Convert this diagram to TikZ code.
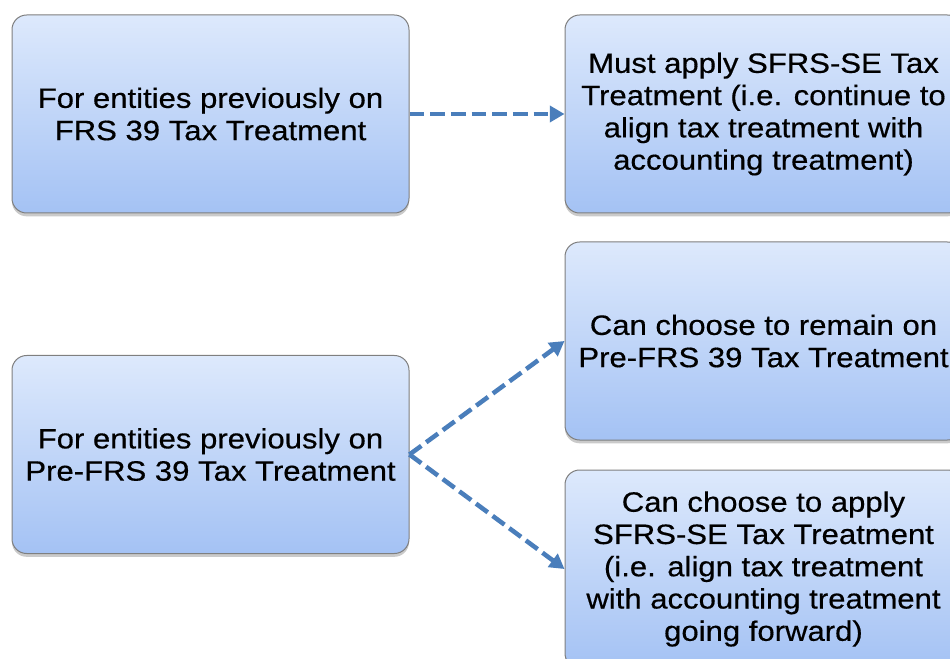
\documentclass[tikz,border=0pt]{standalone}
\usepackage{fontspec}
\setmainfont{Liberation Sans}[FakeStretch=1.11,FakeBold=0.5]
\usetikzlibrary{arrows.meta,shadows}
\definecolor{boxtop}{HTML}{DDE9FC}
\definecolor{boxbot}{HTML}{A4C2F4}
\definecolor{boxline}{HTML}{7F7F7F}
\definecolor{arrowc}{HTML}{4A7EBB}
\begin{document}
\begin{tikzpicture}[x=0.75pt,y=-0.75pt,
 card/.style={draw=boxline, line width=0.75pt, rounded corners=11pt,
   top color=boxtop, bottom color=boxbot,
   minimum width=297.75pt, minimum height=148.5pt, align=center,
   font=\fontsize{21pt}{24.2pt}\selectfont, inner sep=0pt,
   drop shadow={shadow xshift=0pt, shadow yshift=-2.5pt, opacity=0.35, fill=black!60}},
 link/.style={draw=arrowc, line width=3.4pt, dash pattern=on 11pt off 4.5pt,
   -{Triangle[length=11pt,width=12pt]}}]
\useasboundingbox (0,0) rectangle (950,659);
\node[card] (a) at (210.5,114) {For entities previously on\\ FRS 39 Tax Treatment};
\node[card] (b) at (763.5,114) {Must apply SFRS-SE Tax\\Treatment (i.e. continue to\\align tax treatment with\\accounting treatment)};
\node[card] (c) at (210.5,454.5) {For entities previously on\\Pre-FRS 39 Tax Treatment};
\node[card] (d) at (763.5,341) {Can choose to remain on\\Pre-FRS 39 Tax Treatment};
\node[card] (e) at (763.5,569) {Can choose to apply\\SFRS-SE Tax Treatment\\(i.e. align tax treatment\\with accounting treatment\\going forward)};
\draw[link] (a.east) -- (b.west);
\draw[link] (c.east) -- (d.west);
\draw[link] (c.east) -- (e.west);
\end{tikzpicture}
\end{document}
